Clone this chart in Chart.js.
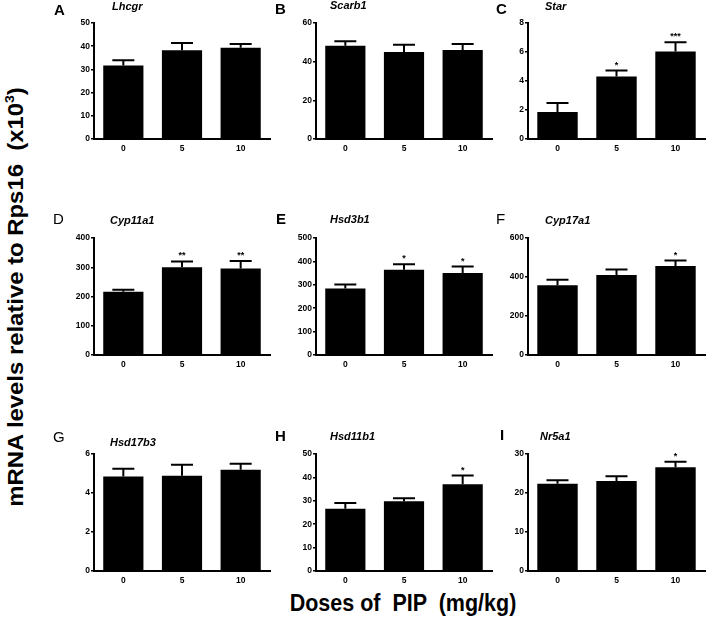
<!DOCTYPE html>
<html>
<head>
<meta charset="utf-8">
<script src="https://cdn.jsdelivr.net/npm/chart.js@4/dist/chart.umd.min.js"></script>
<style>
  body { margin: 0; background: #fff; }
  #wrap { position: relative; width: 707px; height: 623px; overflow: hidden; font-family: "Liberation Sans", Arial, sans-serif; color: #000; }
  #wrap canvas { position: absolute; }
  .letter { position: absolute; font-size: 15px; line-height: 1; }
  .gene { position: absolute; font-size: 11px; font-weight: bold; font-style: italic; line-height: 1; white-space: nowrap; }
  #ytitle { position: absolute; left: 16px; top: 297px; font-size: 22px; font-weight: bold; white-space: pre; line-height: 1;
            transform: translate(-50%, -50%) rotate(-90deg) scaleX(1.085); }
  #ytitle sup { font-size: 13px; vertical-align: 9px; line-height: 0; }
  #xtitle { position: absolute; left: 403px; top: 592px; font-size: 21.5px; font-weight: bold; white-space: pre; line-height: 1;
            transform: translateX(-50%) scaleY(1.12); transform-origin: 50% 0; }
</style>
</head>
<body>
<div id="wrap">
  <div id="ytitle">mRNA levels relative to Rps16  (x10<sup>3</sup>)</div>
  <div id="xtitle">Doses of  PIP  (mg/kg)</div>
</div>
<script>
// data
var doses = ['0', '5', '10'];
var genes = ['Lhcgr', 'Scarb1', 'Star', 'Cyp11a1', 'Hsd3b1', 'Cyp17a1', 'Hsd17b3', 'Hsd11b1', 'Nr5a1'];
var letters = ['A', 'B', 'C', 'D', 'E', 'F', 'G', 'H', 'I'];

var lhcgrMean = [31.7, 38.3, 39.3],   lhcgrSem = [2.2, 3.1, 1.7];
var scarb1Mean = [48.2, 45.0, 46.0],  scarb1Sem = [2.4, 3.7, 3.2];
var starMean = [1.87, 4.31, 6.04],    starSem = [0.61, 0.41, 0.64];
var cyp11a1Mean = [216, 300, 296],    cyp11a1Sem = [7, 20, 25];
var hsd3b1Mean = [284, 364, 350],     hsd3b1Sem = [17, 24, 28];
var cyp17a1Mean = [358, 410, 456],    cyp17a1Sem = [28, 29, 28];
var hsd17b3Mean = [4.85, 4.88, 5.19], hsd17b3Sem = [0.39, 0.57, 0.31];
var hsd11b1Mean = [26.6, 29.8, 37.1], hsd11b1Sem = [2.5, 1.3, 3.7];
var nr5a1Mean = [22.4, 23.1, 26.6],   nr5a1Sem = [0.9, 1.2, 1.4];

var starsC = ['', '*', '***'];
var starsD = ['', '**', '**'];
var starsE = ['', '*', '*'];
var starsF = ['', '', '*'];
var starsH = ['', '', '*'];
var starsI = ['', '', '*'];
var noStars = ['', '', ''];

var yMax = [50, 60, 8, 400, 500, 600, 6, 50, 30];
var yStep = [10, 20, 2, 100, 100, 200, 2, 10, 10];

var means = [lhcgrMean, scarb1Mean, starMean, cyp11a1Mean, hsd3b1Mean, cyp17a1Mean, hsd17b3Mean, hsd11b1Mean, nr5a1Mean];
var sems = [lhcgrSem, scarb1Sem, starSem, cyp11a1Sem, hsd3b1Sem, cyp17a1Sem, hsd17b3Sem, hsd11b1Sem, nr5a1Sem];
var stars = [noStars, noStars, starsC, starsD, starsE, starsF, noStars, starsH, starsI];

// layout of the 3x3 grid (plot areas)
var axisX = [94, 316, 528];
var plotRight = [270, 492, 705];
var plotTop = [23, 238, 454];
var plotBottom = [139, 355, 571];

// panel letter / gene label positions [left, baseline]
var letterPos = [[54, 15], [275, 14], [496, 14], [53, 224], [276, 224], [496, 224], [53, 442], [275, 441], [500, 440]];
var letterBold = [true, true, true, false, true, false, false, true, true];
var genePos = [[112, 10], [330, 9], [545, 10], [110, 224], [330, 223], [545, 224], [110, 446], [330, 440], [540, 440]];

var tickFont = { family: 'Liberation Sans', size: 8.5, weight: 'bold' };

// upper error bars + significance stars
var errorBars = {
  id: 'errorBars',
  afterDatasetsDraw: function(chart) {
    var c = chart.ctx;
    var meta = chart.getDatasetMeta(0);
    var ys = chart.scales.y;
    var sem = chart.options.plugins.errorBars.sem;
    var sig = chart.options.plugins.errorBars.stars;
    c.save();
    c.strokeStyle = '#000';
    c.lineWidth = 2;
    meta.data.forEach(function(bar, i) {
      var top = ys.getPixelForValue(chart.data.datasets[0].data[i] + sem[i]);
      c.beginPath();
      c.moveTo(bar.x, bar.y);
      c.lineTo(bar.x, top);
      c.moveTo(bar.x - 11, top);
      c.lineTo(bar.x + 11, top);
      c.stroke();
      if (sig[i]) {
        c.fillStyle = '#000';
        c.font = 'bold 9px "Liberation Sans"';
        c.textAlign = 'center';
        c.textBaseline = 'alphabetic';
        c.fillText(sig[i], bar.x, top - 3);
      }
    });
    c.restore();
  }
};

var wrap = document.getElementById('wrap');

genes.forEach(function(g, i) {
  var col = i % 3, row = Math.floor(i / 3);
  var w = plotRight[col] - axisX[col] + 48;
  var h = plotBottom[row] - plotTop[row] + 48;
  var cv = document.createElement('canvas');
  cv.width = w; cv.height = h;
  cv.style.left = (axisX[col] - 45) + 'px';
  cv.style.top = (plotTop[row] - 28) + 'px';
  cv.style.width = w + 'px';
  cv.style.height = h + 'px';
  wrap.appendChild(cv);

  new Chart(cv.getContext('2d'), {
    type: 'bar',
    data: {
      labels: doses,
      datasets: [{
        data: means[i],
        backgroundColor: '#000',
        borderWidth: 0,
        categoryPercentage: 1,
        barPercentage: 0.685
      }]
    },
    options: {
      responsive: false,
      animation: false,
      layout: { padding: { top: 28, right: 3, left: 0, bottom: 0 } },
      plugins: {
        legend: { display: false },
        tooltip: { enabled: false },
        errorBars: { sem: sems[i], stars: stars[i] }
      },
      scales: {
        x: {
          grid: { display: false, drawTicks: false },
          border: { display: true, color: '#000', width: 2 },
          ticks: { color: '#000', font: tickFont, padding: 5, maxRotation: 0 },
          afterFit: function(s) { s.height = 20; }
        },
        y: {
          min: 0,
          max: yMax[i],
          ticks: { stepSize: yStep[i], color: '#000', font: tickFont, padding: 1 },
          grid: { drawOnChartArea: false, drawTicks: true, tickLength: 3, color: '#000', lineWidth: 1.5 },
          border: { display: true, color: '#000', width: 2 },
          afterFit: function(s) { s.width = 45; }
        }
      }
    },
    plugins: [errorBars]
  });

  var L = document.createElement('div');
  L.className = 'letter';
  L.textContent = letters[i];
  L.style.left = letterPos[i][0] + 'px';
  L.style.top = (letterPos[i][1] - 12.7) + 'px';
  L.style.fontWeight = letterBold[i] ? 'bold' : 'normal';
  wrap.appendChild(L);

  var G = document.createElement('div');
  G.className = 'gene';
  G.textContent = g;
  G.style.left = genePos[i][0] + 'px';
  G.style.top = (genePos[i][1] - 9.3) + 'px';
  wrap.appendChild(G);
});
</script>
</body>
</html>
